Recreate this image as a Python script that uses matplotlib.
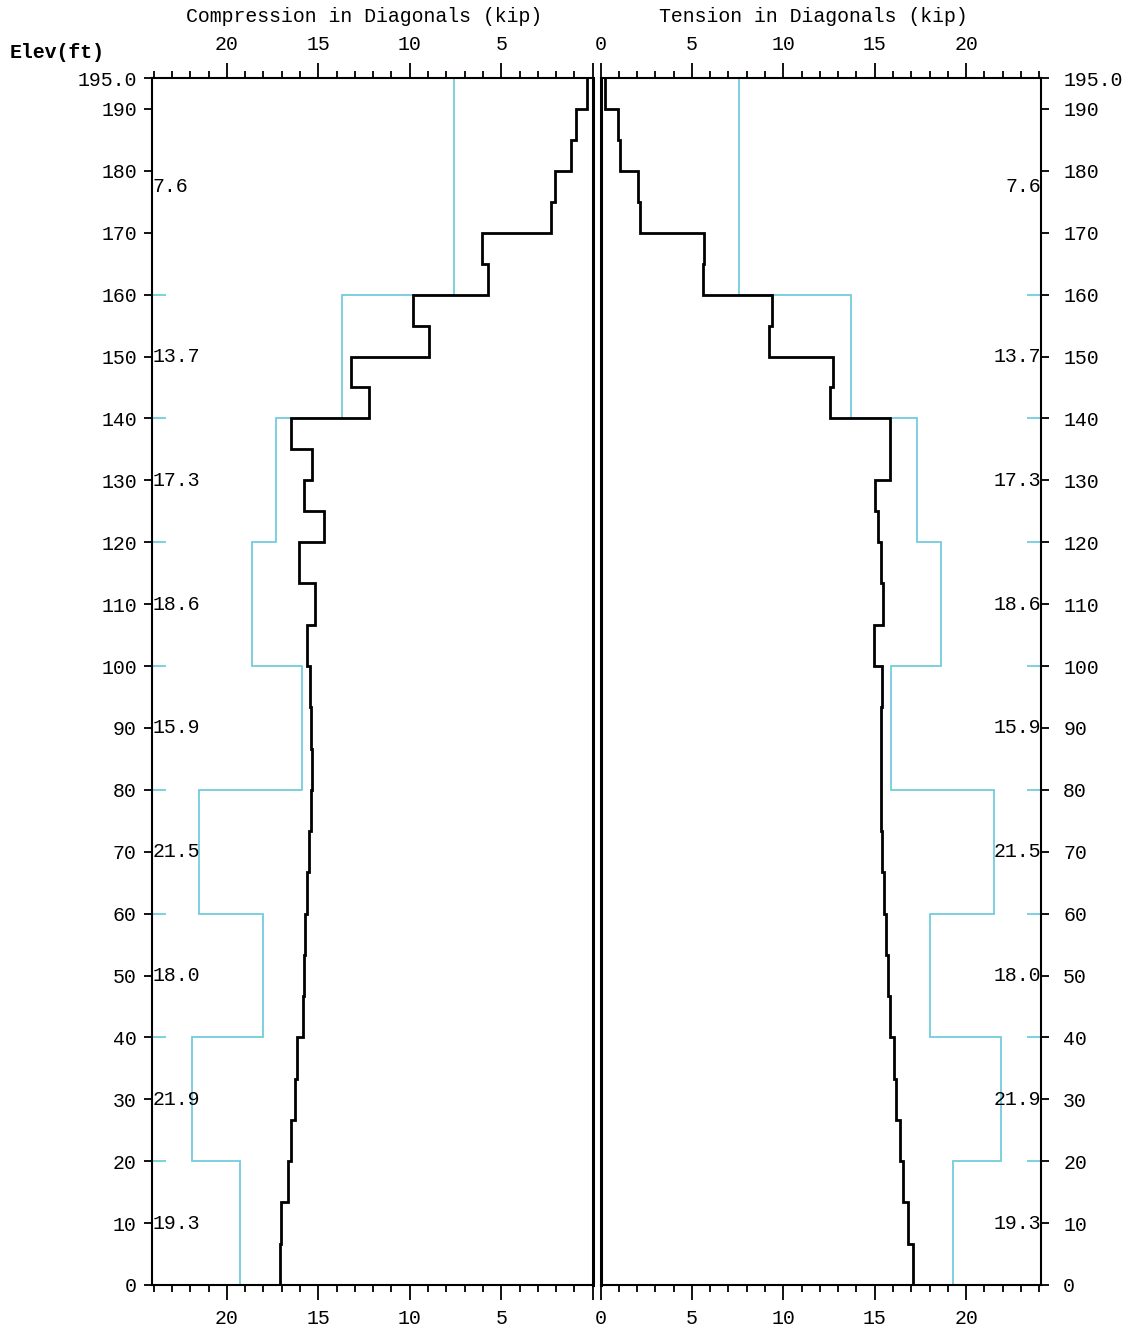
import matplotlib
matplotlib.use('Agg')
import matplotlib.pyplot as plt
from matplotlib.ticker import FixedLocator, MultipleLocator

plt.rcParams['font.family'] = ['Liberation Mono', 'DejaVu Sans Mono']

# ---------------- data ----------------
# panel boundary elevations (ft), bottom to top
panel_elev = [0, 6.667, 13.333, 20, 26.667, 33.333, 40, 46.667, 53.333, 60,
              66.667, 73.333, 80, 86.667, 93.333, 100, 106.667, 113.333, 120,
              125, 130, 135, 140, 145, 150, 155, 160, 165, 170, 175, 180, 185,
              190, 195]
# compression in diagonals per panel (kip), bottom to top
compression = [17.11, 17.02, 16.66, 16.48, 16.26, 16.15, 15.86, 15.78, 15.71,
               15.60, 15.51, 15.40, 15.35, 15.40, 15.46, 15.60, 15.20, 16.06,
               14.69, 15.78, 15.35, 16.48, 12.24, 13.23, 8.96, 9.85, 5.70,
               6.03, 2.28, 2.08, 1.20, 0.91, 0.33]
# tension in diagonals per panel (kip), bottom to top
tension = [17.07, 16.81, 16.54, 16.36, 16.17, 16.03, 15.85, 15.70, 15.61,
           15.48, 15.41, 15.35, 15.34, 15.34, 15.41, 14.97, 15.43, 15.35,
           15.15, 15.02, 15.81, 15.85, 12.56, 12.69, 9.20, 9.40, 5.62, 5.67,
           2.17, 2.03, 1.07, 0.94, 0.25]
# section boundaries (ft) and allowable capacity per section (kip)
section_elev = [0, 20, 40, 60, 80, 100, 120, 140, 160, 195]
allowable = [19.3, 21.9, 18.0, 21.5, 15.9, 18.6, 17.3, 13.7, 7.6]

elev_ticks = [0, 10, 20, 30, 40, 50, 60, 70, 80, 90, 100, 110, 120, 130, 140,
              150, 160, 170, 180, 190, 195]
elev_labels = ['0', '10', '20', '30', '40', '50', '60', '70', '80', '90',
               '100', '110', '120', '130', '140', '150', '160', '170', '180',
               '190', '195.0']
force_ticks = [0, 5, 10, 15, 20]
force_labels_left = ['', '5', '10', '15', '20']   # shared "0" shown once
force_labels_right = ['0', '5', '10', '15', '20']

XMAX = 24.09
BLUE = '#74CCDD'
FS = 14.3

W, H = 1131, 1331
fig = plt.figure(figsize=(W / 100, H / 100), dpi=100)
bottom = 1 - 1285 / H
height = (1285 - 78) / H
axL = fig.add_axes([152 / W, bottom, (592.7 - 152) / W, height])
axR = fig.add_axes([600.5 / W, bottom, (1041 - 600.5) / W, height])

mids = [(section_elev[i] + section_elev[i + 1]) / 2 for i in range(len(allowable))]

for ax, vals, side, flabels in [(axL, compression, 'L', force_labels_left),
                                (axR, tension, 'R', force_labels_right)]:
    ax.stairs(allowable, section_elev, orientation='horizontal', baseline=None,
              color=BLUE, lw=1.3, zorder=2)
    ax.stairs(vals, panel_elev, orientation='horizontal', baseline=None,
              color='black', lw=2.0, zorder=3)
    ax.hlines(section_elev, XMAX - 0.75, XMAX, color=BLUE, lw=1.3, zorder=2,
              clip_on=False)
    ax.set_ylim(0, 195)
    if side == 'L':
        ax.set_xlim(XMAX, 0)
    else:
        ax.set_xlim(0, XMAX)
    ax.xaxis.set_major_locator(FixedLocator(force_ticks))
    ax.set_xticklabels(flabels)
    ax.xaxis.set_minor_locator(MultipleLocator(1))
    ax.tick_params(axis='x', which='both', top=True, bottom=True,
                   labeltop=True, labelbottom=True, direction='out',
                   labelsize=FS, width=1.3)
    ax.tick_params(axis='x', which='major', length=11, pad=6)
    ax.tick_params(axis='x', which='minor', length=5)
    for s in ax.spines.values():
        s.set_linewidth(1.5)
    for m, a in zip(mids, allowable):
        if side == 'L':
            ax.text(XMAX - 0.02, m, f'{a:.1f}', ha='left', va='center',
                    fontsize=FS, zorder=4)
        else:
            ax.text(XMAX - 0.02, m, f'{a:.1f}', ha='right', va='center',
                    fontsize=FS, zorder=4)

# zero lines (double line)
axL.spines['right'].set_linewidth(2.2)
axR.spines['left'].set_linewidth(2.2)

axL.yaxis.set_major_locator(FixedLocator(elev_ticks))
axL.set_yticklabels(elev_labels)
axL.tick_params(axis='y', left=True, right=False, labelleft=True,
                labelright=False, direction='out', length=6, width=1.3,
                pad=5, labelsize=FS)

axR.yaxis.tick_right()
axR.yaxis.set_major_locator(FixedLocator(elev_ticks))
axR.set_yticklabels(elev_labels)
axR.tick_params(axis='y', left=False, right=True, labelleft=False,
                labelright=True, direction='out', length=6, width=1.3,
                pad=10, labelsize=FS)

fig.text(364 / W, 1 - 16 / H, 'Compression in Diagonals (kip)', ha='center',
         va='center', fontsize=FS)
fig.text(813 / W, 1 - 16 / H, 'Tension in Diagonals (kip)', ha='center',
         va='center', fontsize=FS)
fig.text(10 / W, 1 - 52 / H, 'Elev(ft)', ha='left', va='center',
         fontsize=FS, fontweight='bold')

fig.savefig('out.png', dpi=100)
